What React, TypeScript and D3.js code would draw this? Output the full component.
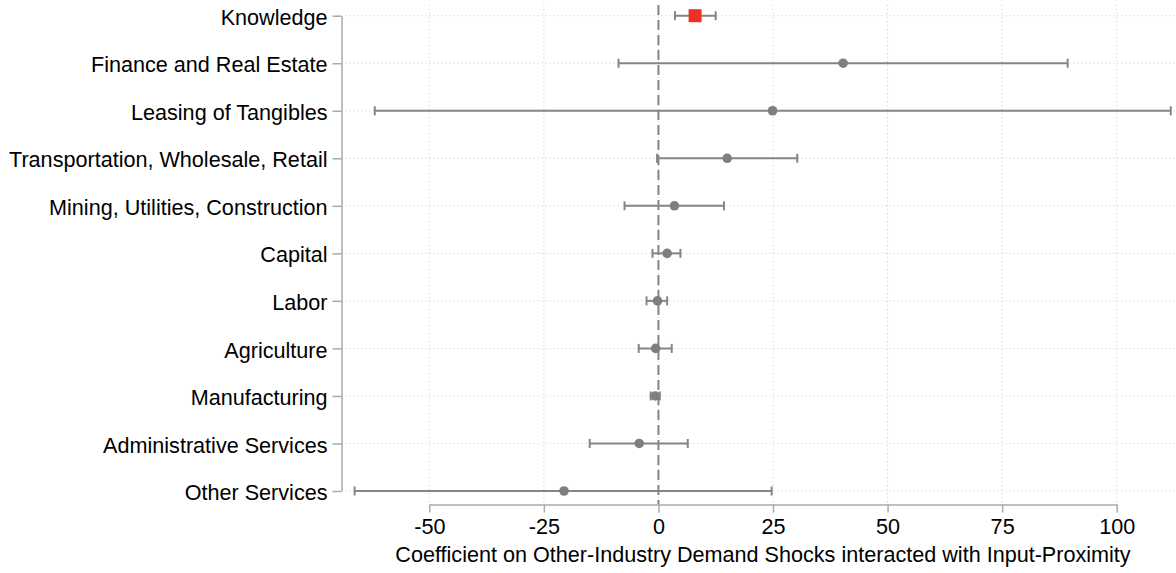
import { useEffect, useRef } from "react";
import * as d3 from "d3";

const categories = [
  "Knowledge",
  "Finance and Real Estate",
  "Leasing of Tangibles",
  "Transportation, Wholesale, Retail",
  "Mining, Utilities, Construction",
  "Capital",
  "Labor",
  "Agriculture",
  "Manufacturing",
  "Administrative Services",
  "Other Services",
];
const estimates = [8.0, 40.3, 24.9, 15.0, 3.5, 1.9, -0.2, -0.6, -0.7, -4.2, -20.6];
const ciLow = [3.6, -8.7, -61.9, -0.3, -7.4, -1.3, -2.6, -4.3, -1.7, -15.0, -66.3];
const ciHigh = [12.5, 89.3, 111.8, 30.3, 14.3, 4.8, 1.9, 2.9, 0.3, 6.4, 24.7];
const xTicks = [-50, -25, 0, 25, 50, 75, 100];
const highlight = "Knowledge";

const width = 1176;
const height = 573;
const axisLeftX = 341.5;
const axisBottomY = 504.5;
const plotTop = 5;
const font = "'Liberation Sans', Arial, Helvetica, sans-serif";
const fontSize = 21.6;
const grey = "#858585";

const App = () => {
  const ref = useRef<SVGSVGElement>(null);

  useEffect(() => {
    const svg = d3.select(ref.current);
    svg.selectAll("*").remove();

    const x = d3.scaleLinear().domain([-50, 100]).range([429.3, 1116.7]);
    const y = d3.scalePoint().domain(categories).range([15.7, 491]);

    const rows = categories.map((c, i) => ({
      cat: c,
      est: estimates[i],
      lo: ciLow[i],
      hi: ciHigh[i],
    }));

    // grid lines (dotted)
    svg
      .append("g")
      .selectAll("line")
      .data(xTicks)
      .join("line")
      .attr("x1", (d) => x(d))
      .attr("x2", (d) => x(d))
      .attr("y1", plotTop)
      .attr("y2", axisBottomY)
      .attr("stroke", "#c8c8c8")
      .attr("stroke-width", 1)
      .attr("stroke-dasharray", "1,3");

    svg
      .append("g")
      .selectAll("line")
      .data(categories)
      .join("line")
      .attr("x1", axisLeftX + 4)
      .attr("x2", width)
      .attr("y1", (d) => y(d)!)
      .attr("y2", (d) => y(d)!)
      .attr("stroke", "#c8c8c8")
      .attr("stroke-width", 1)
      .attr("stroke-dasharray", "1,3");

    // zero reference
    svg
      .append("line")
      .attr("x1", x(0))
      .attr("x2", x(0))
      .attr("y1", plotTop)
      .attr("y2", axisBottomY)
      .attr("stroke", grey)
      .attr("stroke-width", 2)
      .attr("stroke-dasharray", "10,5");

    // x axis
    const xAxis = d3.axisBottom(x).tickValues(xTicks).tickSize(8).tickSizeOuter(0).tickPadding(6);
    const gx = svg
      .append("g")
      .attr("transform", `translate(0,${axisBottomY})`)
      .call(xAxis);
    gx.select(".domain").attr("stroke", "#aaa").attr("stroke-width", 1.5);
    gx.selectAll(".tick line").attr("stroke", "#aaa").attr("stroke-width", 1.5);
    gx.selectAll("text")
      .attr("font-family", font)
      .attr("font-size", fontSize)
      .attr("fill", "#000")
      .text((d: any) => String(d));

    // y axis
    const yAxis = d3.axisLeft(y).tickSize(9).tickSizeOuter(0).tickPadding(5);
    const gy = svg
      .append("g")
      .attr("transform", `translate(${axisLeftX},0)`)
      .call(yAxis);
    gy.select(".domain").attr("stroke", "#aaa").attr("stroke-width", 1.5);
    gy.selectAll(".tick line").attr("stroke", "#aaa").attr("stroke-width", 1.5);
    gy.selectAll("text")
      .attr("font-family", font)
      .attr("font-size", fontSize)
      .attr("dy", "0.4em")
      .attr("fill", "#000");

    // axis title
    svg
      .append("text")
      .attr("x", 763)
      .attr("y", 562)
      .attr("text-anchor", "middle")
      .attr("font-family", font)
      .attr("font-size", fontSize)
      .attr("fill", "#000")
      .text("Coefficient on Other-Industry Demand Shocks interacted with Input-Proximity");

    // confidence intervals
    const ci = svg.append("g");
    ci.selectAll(".ci")
      .data(rows)
      .join("line")
      .attr("x1", (d) => x(d.lo))
      .attr("x2", (d) => x(d.hi))
      .attr("y1", (d) => y(d.cat)!)
      .attr("y2", (d) => y(d.cat)!)
      .attr("stroke", grey)
      .attr("stroke-width", 2);
    ["lo", "hi"].forEach((k) => {
      ci.selectAll(`.cap-${k}`)
        .data(rows)
        .join("line")
        .attr("class", `cap-${k}`)
        .attr("x1", (d: any) => x(d[k]))
        .attr("x2", (d: any) => x(d[k]))
        .attr("y1", (d) => y(d.cat)! - 4.5)
        .attr("y2", (d) => y(d.cat)! + 4.5)
        .attr("stroke", grey)
        .attr("stroke-width", 2);
    });

    // point estimates
    svg
      .append("g")
      .selectAll("circle")
      .data(rows.filter((d) => d.cat !== highlight))
      .join("circle")
      .attr("cx", (d) => x(d.est))
      .attr("cy", (d) => y(d.cat)!)
      .attr("r", 4.8)
      .attr("fill", "#7f7f7f");

    svg
      .append("g")
      .selectAll("rect")
      .data(rows.filter((d) => d.cat === highlight))
      .join("rect")
      .attr("x", (d) => x(d.est) - 6.5)
      .attr("y", (d) => y(d.cat)! - 6.5)
      .attr("width", 13)
      .attr("height", 13)
      .attr("fill", "#ee3124");
  }, []);

  return (
    <svg
      ref={ref}
      width={width}
      height={height}
      style={{ position: "absolute", left: 0, top: 0, background: "#fff" }}
    />
  );
};

export default App;
